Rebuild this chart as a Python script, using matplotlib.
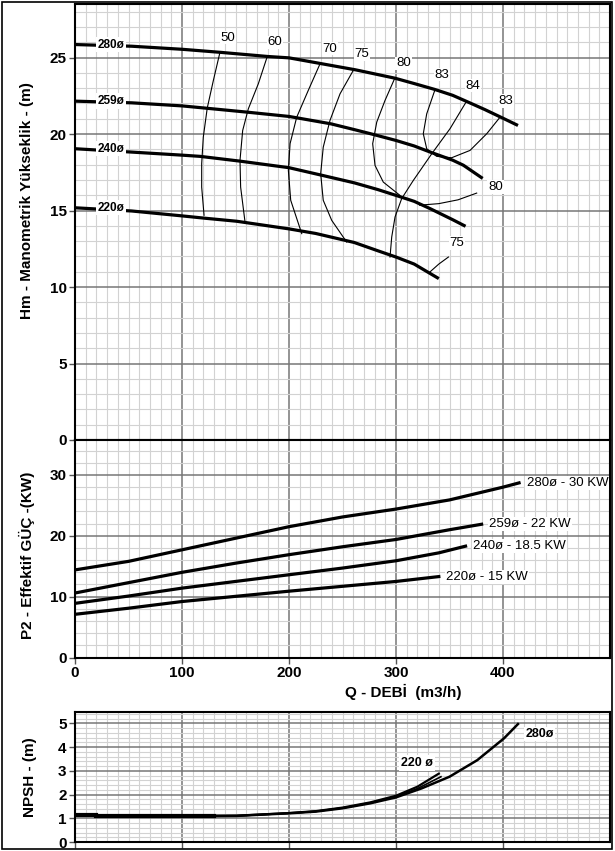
import matplotlib
matplotlib.use("Agg")
import matplotlib.pyplot as plt
from matplotlib.patches import Rectangle
import numpy as np

plt.rcParams['font.family'] = ['Liberation Sans', 'DejaVu Sans']

# H-Q curves (m)
q280 = [0, 53, 100, 136, 180, 200, 231, 262, 299, 317, 336, 353, 367, 383, 398, 414]
h280 = [25.85, 25.74, 25.54, 25.34, 25.07, 24.98, 24.59, 24.2, 23.65, 23.3, 22.92,
        22.53, 22.1, 21.6, 21.1, 20.56]
q259 = [0, 53, 100, 121, 161, 200, 239, 261, 279, 300, 317, 332, 353, 363, 381]
h259 = [22.15, 22.04, 21.84, 21.7, 21.43, 21.15, 20.67, 20.29, 19.97, 19.58, 19.22,
        18.82, 18.29, 17.96, 17.1]
q240 = [0, 53, 100, 117, 154, 200, 231, 261, 283, 300, 317, 332, 353, 365]
h240 = [19.04, 18.82, 18.62, 18.54, 18.23, 17.8, 17.3, 16.81, 16.37, 15.99, 15.6,
        15.12, 14.4, 13.97]
q220 = [0, 53, 100, 121, 151, 200, 225, 261, 283, 300, 317, 340]
h220 = [15.18, 14.97, 14.65, 14.5, 14.3, 13.8, 13.5, 12.91, 12.37, 11.96, 11.5, 10.55]
h_names = ['280ø', '259ø', '240ø', '220ø']

# efficiency iso-lines (%)
e50_q = [135.5, 129.3, 123.6, 119.9, 118.4, 118.4, 120.6]
e50_h = [25.35, 23.5, 21.7, 19.8, 18.06, 16.53, 14.69]
e60_q = [179.7, 171.3, 162, 156.7, 154.2, 154.8, 158.9]
e60_h = [25.07, 23.28, 21.65, 20.23, 18.28, 16.53, 14.25]
e70_q = [229, 218, 207.2, 201, 199.4, 201.6, 211.9]
e70_h = [24.59, 22.85, 21.1, 19.37, 17.62, 15.67, 13.49]
e75_q = [260, 247.7, 238.3, 232, 229.6, 232, 239.9, 253.9]
e75_h = [24.15, 22.63, 20.89, 19.14, 17.41, 15.67, 14.36, 12.94]
e75b_q = [331.8, 340, 349]
e75b_h = [10.99, 11.5, 11.96]
e80_q = [299, 289.7, 282, 278.2, 280.4, 288.1, 303.7]
e80_h = [23.67, 22.19, 20.78, 19.37, 17.95, 16.86, 15.99]
e80b_q = [322, 340, 358, 375.4]
e80b_h = [15.35, 15.45, 15.7, 16.14]
e83_q = [336.4, 328.7, 325.5, 328.7, 338, 352, 369.2, 384.8, 397.2]
e83_h = [22.89, 21.32, 20.02, 19.04, 18.54, 18.45, 18.93, 20.02, 21.1]
e84_q = [365.4, 350.5, 333.4, 316.2, 305.3, 299.1, 296, 294.4]
e84_h = [22.08, 20.35, 18.71, 16.97, 15.78, 14.58, 13.27, 11.96]
eff_labels = ['50', '60', '70', '75', '80', '83', '84', '83', '80', '75']
eff_label_q = [143, 187, 238, 268, 307, 343, 372, 403, 393, 357]
eff_label_h = [26.3, 26.0, 25.57, 25.24, 24.63, 23.89, 23.17, 22.15, 16.53, 12.88]

# power curves (kW)
p280_q = [0, 50, 100, 150, 200, 250, 300, 350, 400, 415]
p280 = [14.4, 15.8, 17.7, 19.6, 21.5, 23.1, 24.4, 25.9, 28.0, 28.7]
p259_q = [0, 50, 100, 150, 200, 250, 300, 350, 380]
p259 = [10.6, 12.3, 14.0, 15.5, 16.9, 18.2, 19.4, 21.0, 21.9]
p240_q = [0, 50, 100, 200, 250, 300, 340, 365]
p240 = [8.9, 10.1, 11.4, 13.6, 14.7, 15.9, 17.2, 18.3]
p220_q = [0, 50, 100, 200, 300, 340]
p220 = [7.1, 8.1, 9.2, 10.9, 12.5, 13.3]
p_names = ['280ø - 30 KW', '259ø - 22 KW', '240ø - 18.5 KW', '220ø - 15 KW']

# NPSH curves (m)
n280_q = [0, 20, 50, 100, 151, 200, 225, 250, 276, 300, 324, 350, 376, 401, 414]
n280 = [1.17, 1.1, 1.08, 1.08, 1.1, 1.21, 1.28, 1.42, 1.63, 1.88, 2.26, 2.75, 3.45,
        4.37, 4.97]
n240_q = [0, 50, 100, 151, 200, 225, 250, 276, 300, 320, 342]
n240 = [1.15, 1.09, 1.09, 1.1, 1.21, 1.29, 1.43, 1.65, 1.91, 2.25, 2.75]
n220_q = [0, 50, 100, 151, 200, 225, 250, 276, 300, 320, 340]
n220 = [1.15, 1.1, 1.1, 1.11, 1.22, 1.3, 1.45, 1.67, 1.95, 2.33, 2.88]

W, H = 615, 851
fig = plt.figure(figsize=(W / 100, H / 100), dpi=100)

def box(top, bottom):
    return [75 / W, 1 - bottom / H, 535 / W, (bottom - top) / H]

ax1 = fig.add_axes(box(4, 440))
ax2 = fig.add_axes(box(440, 657.5))
ax3 = fig.add_axes(box(711.7, 842))

def style(ax, ymax, ymajor, yminor):
    ax.set_xlim(0, 500)
    ax.set_ylim(0, ymax)
    ax.set_xticks(np.arange(0, 401, 100))
    ax.set_xticks(np.arange(0, 501, 10), minor=True)
    ax.set_yticks(np.arange(0, ymax, ymajor))
    ax.set_yticks(np.arange(0, ymax, yminor), minor=True)
    ax.grid(which='minor', color='#d2d2d2', lw=0.8)
    ax.grid(which='major', color='#767676', lw=1.1)
    ax.set_axisbelow(True)
    ax.tick_params(which='minor', length=0)
    ax.tick_params(which='major', length=4, width=1, color='#555555', pad=2,
                   labelsize=11)
    for lab in ax.get_xticklabels() + ax.get_yticklabels():
        lab.set_fontweight('bold')
    for s in ax.spines.values():
        s.set_linewidth(1.5)
        s.set_color('black')

style(ax1, 28.5, 5, 1)
style(ax2, 35.75, 10, 2)
style(ax3, 5.49, 1, 0.2)
ax1.tick_params(axis='x', labelbottom=False)
ax3.tick_params(axis='x', labelbottom=False)

narrow = ['Liberation Sans Narrow', 'Liberation Sans', 'DejaVu Sans']

# H-Q
for q, h, name in zip([q280, q259, q240, q220], [h280, h259, h240, h220], h_names):
    ax1.plot(q, h, color='black', lw=2.3, solid_capstyle='butt', zorder=3)
    ax1.text(34, h[0], name, ha='center', va='center', fontsize=8.5,
             fontweight='bold', zorder=4,
             bbox=dict(facecolor='white', edgecolor='none', pad=1.2))

for q, h in [(e50_q, e50_h), (e60_q, e60_h), (e70_q, e70_h), (e75_q, e75_h),
             (e75b_q, e75b_h), (e80_q, e80_h), (e80b_q, e80b_h),
             (e83_q, e83_h), (e84_q, e84_h)]:
    ax1.plot(q, h, color='black', lw=0.8, zorder=2)

for t, q, h in zip(eff_labels, eff_label_q, eff_label_h):
    ax1.text(q, h, t, ha='center', va='center', fontsize=9.5, family=narrow,
             zorder=4, bbox=dict(facecolor='white', edgecolor='none', pad=0.5))

# power
for q, p, name in zip([p280_q, p259_q, p240_q, p220_q], [p280, p259, p240, p220], p_names):
    ax2.plot(q, p, color='black', lw=2.3, zorder=3)
    ax2.text(q[-1] + 7, p[-1], name, ha='left', va='center', fontsize=9.5,
             family=narrow, zorder=4,
             bbox=dict(facecolor='white', edgecolor='none', pad=0.8))

# NPSH
ax3.plot(n240_q, n240, color='black', lw=1.2, zorder=3)
ax3.plot(n220_q, n220, color='black', lw=1.6, zorder=3)
ax3.plot(n280_q, n280, color='black', lw=1.8, zorder=3)
ax3.plot([0, 20], [1.15, 1.15], color='black', lw=3, zorder=3)
ax3.plot([20, 130], [1.08, 1.08], color='black', lw=3, zorder=3)
ax3.text(320, 3.33, '220 ø', ha='center', va='center', fontsize=9,
         fontweight='bold', zorder=4,
         bbox=dict(facecolor='white', edgecolor='none', pad=1.5))
ax3.text(421, 4.55, '280ø', ha='left', va='center', fontsize=9,
         fontweight='bold', zorder=4,
         bbox=dict(facecolor='white', edgecolor='none', pad=1.0))

fig.text(27 / W, 1 - 201 / H, 'Hm - Manometrik Yükseklik - (m)', rotation=90,
         ha='center', va='center', fontsize=11, fontweight='bold')
fig.text(27 / W, 1 - 555 / H, 'P2 - Effektif GÜÇ -(KW)', rotation=90,
         ha='center', va='center', fontsize=11, fontweight='bold')
fig.text(30 / W, 1 - 777 / H, 'NPSH - (m)', rotation=90,
         ha='center', va='center', fontsize=11, fontweight='bold')
fig.text(403 / W, 1 - 692 / H, 'Q - DEBİ  (m3/h)', ha='center', va='center',
         fontsize=11, fontweight='bold')

fig.patches.append(Rectangle((2 / W, 2 / H), 1 - 5 / W, 1 - 4 / H,
                             transform=fig.transFigure, fill=False,
                             edgecolor='black', lw=1.2))

fig.savefig('out.png', dpi=100)
